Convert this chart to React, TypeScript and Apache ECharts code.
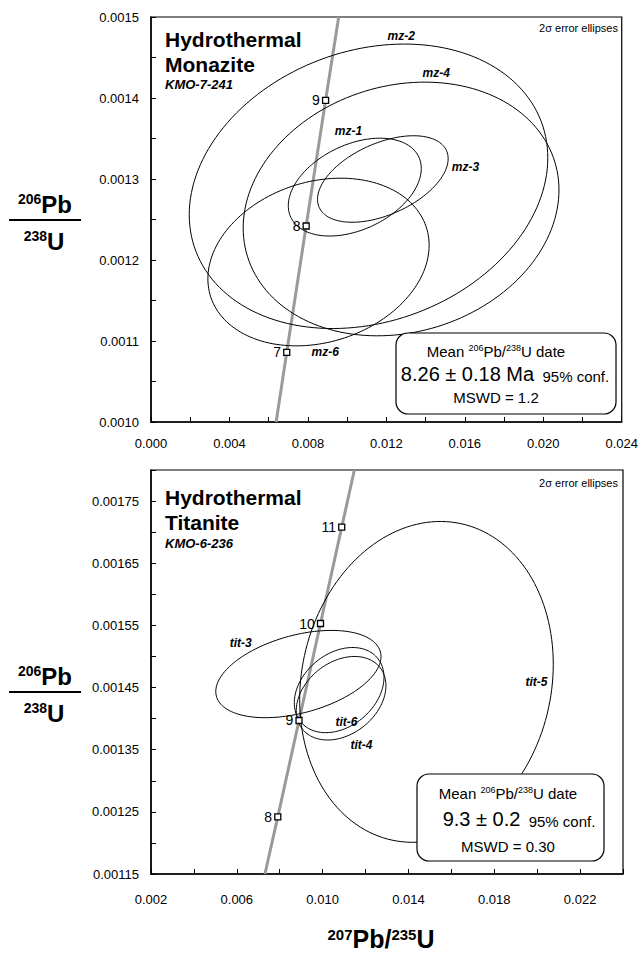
import React, { useEffect, useRef } from 'react';
import * as echarts from 'echarts';

const FONT = "'Liberation Sans', Arial, Helvetica, sans-serif";

// ---------- Panel A: hydrothermal monazite (KMO-7-241) ----------
const mzNames = ['mz-1', 'mz-2', 'mz-3', 'mz-4', 'mz-6'];
const mzX = [0.01039, 0.01109, 0.01182, 0.01275, 0.00854]; // 207Pb/235U centre
const mzY = [0.00129, 0.001291, 0.0013, 0.001263, 0.0011975]; // 206Pb/238U centre
const mzSx = [0.00339, 0.00914, 0.00333, 0.00805, 0.00564]; // 2σ x
const mzSy = [0.0000604, 0.0001756, 0.0000534, 0.0001566, 0.0001035]; // 2σ y
const mzRho = [0.38, 0.2, 0.47, 0.15, 0.2];
const mzLabelX = [0.01007, 0.01276, 0.01603, 0.01454, 0.00888];
const mzLabelY = [0.001359, 0.001477, 0.001315, 0.001431, 0.001086];

const concAAges = [7, 8, 9];
const concAX = [0.00692, 0.00791, 0.0089];
const concAY = [0.001086, 0.001242, 0.001397];
const concALineX = [0.00638, 0.00692, 0.00791, 0.0089, 0.00957];
const concALineY = [0.001, 0.001086, 0.001242, 0.001397, 0.0015];

const xTicksA = [0, 0.002, 0.004, 0.006, 0.008, 0.01, 0.012, 0.014, 0.016, 0.018, 0.02, 0.022, 0.024];
const xLabelsA = [0, 0.004, 0.008, 0.012, 0.016, 0.02, 0.024];
const yTicksA = [0.001, 0.00105, 0.0011, 0.00115, 0.0012, 0.00125, 0.0013, 0.00135, 0.0014, 0.00145, 0.0015];
const yLabelsA = [0.001, 0.0011, 0.0012, 0.0013, 0.0014, 0.0015];

// ---------- Panel B: hydrothermal titanite (KMO-6-236) ----------
const titNames = ['tit-3', 'tit-4', 'tit-5', 'tit-6'];
const titX = [0.00887, 0.01086, 0.01484, 0.01077];
const titY = [0.0014717, 0.0014328, 0.0014591, 0.0014459];
const titSx = [0.00385, 0.00209, 0.00591, 0.00209];
const titSy = [0.0000702, 0.0000672, 0.0002581, 0.0000685];
const titRho = [0.4, 0.3, 0.11, 0.3];
const titLabelX = [0.00618, 0.01181, 0.01997, 0.01111];
const titLabelY = [0.0015215, 0.0013575, 0.0014597, 0.0013946];

const concBAges = [8, 9, 10, 11];
const concBX = [0.00791, 0.0089, 0.0099, 0.01089];
const concBY = [0.001242, 0.001397, 0.001553, 0.001708];
const concBLineX = [0.00731, 0.00791, 0.0089, 0.0099, 0.01089, 0.01148];
const concBLineY = [0.00115, 0.001242, 0.001397, 0.001553, 0.001708, 0.0018];

const xTicksB = [0.002, 0.004, 0.006, 0.008, 0.01, 0.012, 0.014, 0.016, 0.018, 0.02, 0.022, 0.024];
const xLabelsB = [0.002, 0.006, 0.01, 0.014, 0.018, 0.022];
const yTicksB = [0.00115, 0.0012, 0.00125, 0.0013, 0.00135, 0.0014, 0.00145, 0.0015, 0.00155, 0.0016, 0.00165, 0.0017, 0.00175, 0.0018];
const yLabelsB = [0.00115, 0.00125, 0.00135, 0.00145, 0.00155, 0.00165, 0.00175];

const ellipseRender = (params: any, api: any) => {
  const cx = api.value(0);
  const cy = api.value(1);
  const sx = api.value(2);
  const sy = api.value(3);
  const r = api.value(4);
  const k = Math.sqrt(1 - r * r);
  const pts: number[][] = [];
  const n = 160;
  for (let i = 0; i <= n; i++) {
    const t = (i / n) * Math.PI * 2;
    pts.push(api.coord([cx + sx * Math.cos(t), cy + sy * (r * Math.cos(t) + k * Math.sin(t))]));
  }
  return {
    type: 'polygon',
    shape: { points: pts },
    style: { fill: 'none', stroke: '#000', lineWidth: 1 },
  };
};

function axisPair(gi: number, xmin: number, xmax: number, xt: number[], xl: number[], xdig: number, xmargin: number,
  ymin: number, ymax: number, yt: number[], yl: number[], ydig: number) {
  const common = {
    axisLine: { show: true, onZero: false, lineStyle: { color: '#000', width: 1.5 } },
    splitLine: { show: false },
  };
  const x = {
    type: 'value', gridIndex: gi, min: xmin, max: xmax, ...common,
    axisTick: { show: true, inside: true, length: 5, customValues: xt, lineStyle: { color: '#000', width: 1 } },
    axisLabel: {
      customValues: xl, margin: xmargin, color: '#000', fontSize: 13, fontFamily: FONT,
      formatter: (v: number) => v.toFixed(xdig),
    },
  };
  const y = {
    type: 'value', gridIndex: gi, min: ymin, max: ymax, ...common,
    axisTick: { show: true, inside: true, length: 5, customValues: yt, lineStyle: { color: '#000', width: 1 } },
    axisLabel: {
      customValues: yl, margin: 12, color: '#000', fontSize: 13, fontFamily: FONT,
      formatter: (v: number) => v.toFixed(ydig),
    },
  };
  return { x, y };
}

function panelSeries(gi: number, names: string[], xs: number[], ys: number[], sxs: number[], sys: number[], rhos: number[],
  lx: number[], ly: number[], ages: number[], cx: number[], cy: number[], clx: number[], cly: number[]) {
  return [
    {
      type: 'line', xAxisIndex: gi, yAxisIndex: gi, showSymbol: false, symbol: 'none',
      data: clx.map((v, i) => [v, cly[i]]),
      lineStyle: { color: '#9a9a9a', width: 3 }, z: 1, silent: true,
    },
    {
      type: 'custom', xAxisIndex: gi, yAxisIndex: gi, renderItem: ellipseRender,
      encode: { x: 0, y: 1 },
      data: names.map((n, i) => [xs[i], ys[i], sxs[i], sys[i], rhos[i]]),
      z: 3, silent: true,
    },
    {
      type: 'scatter', xAxisIndex: gi, yAxisIndex: gi, symbol: 'rect', symbolSize: 6,
      itemStyle: { color: '#fff', borderColor: '#000', borderWidth: 1.3, opacity: 1 },
      data: ages.map((a, i) => ({ value: [cx[i], cy[i]], name: String(a) })),
      label: { show: true, position: 'left', distance: 2, formatter: '{b}', color: '#000', opacity: 1, fontSize: 14, fontFamily: FONT },
      z: 4, silent: true,
    },
    {
      type: 'scatter', xAxisIndex: gi, yAxisIndex: gi, symbol: 'circle', symbolSize: 1,
      itemStyle: { color: '#fff', opacity: 1 },
      data: names.map((n, i) => ({ value: [lx[i], ly[i]], name: n })),
      label: {
        show: true, position: 'inside', formatter: '{b}', color: '#000', opacity: 1, fontSize: 12,
        fontWeight: 'bold', fontStyle: 'italic', fontFamily: FONT,
      },
      z: 5, silent: true,
    },
  ];
}

function txt(x: number, y: number, text: string, size: number, opts: any = {}) {
  return {
    type: 'text', x, y, z: 100,
    style: {
      text, fill: '#000', font: `${opts.style || ''} ${opts.weight || 'normal'} ${size}px ${FONT}`,
      textAlign: opts.align || 'left', textVerticalAlign: 'middle',
    },
  };
}

function richTxt(x: number, y: number, text: string, rich: any) {
  return {
    type: 'text', x, y, z: 100,
    style: { text, rich, align: 'center', verticalAlign: 'middle', fill: '#000', fontFamily: FONT },
  };
}

function fracTitle(cx: number, lineY: number) {
  const rich = {
    s: { fontSize: 14, fontWeight: 'bold', fontFamily: FONT, verticalAlign: 'top', fill: '#000' },
    m: { fontSize: 24, fontWeight: 'bold', fontFamily: FONT, verticalAlign: 'bottom', fill: '#000' },
  };
  return [
    richTxt(cx, lineY - 16, '{s|206}{m|Pb}', rich),
    { type: 'line', z: 100, shape: { x1: 9, y1: lineY, x2: 81, y2: lineY }, style: { stroke: '#000', lineWidth: 2 } },
    richTxt(cx - 1, lineY + 21, '{s|238}{m|U}', rich),
  ];
}

function resultBox(x: number, y: number, w: number, h: number, cx: number, l1: number, big: string, bigCx: number, l2: number, mswd: string, l3: number) {
  const mean = {
    a: { fontSize: 15, fontFamily: FONT, fill: '#000' },
    s: { fontSize: 9, fontFamily: FONT, verticalAlign: 'top', fill: '#000' },
  };
  const val = {
    b: { fontSize: 20, fontFamily: FONT, verticalAlign: 'bottom', fill: '#000' },
    c: { fontSize: 15, fontFamily: FONT, verticalAlign: 'bottom', fill: '#000' },
  };
  return [
    { type: 'rect', z: 90, shape: { x, y, width: w, height: h, r: 12 }, style: { fill: '#fff', stroke: '#000', lineWidth: 1.2 } },
    richTxt(cx, l1, '{a|Mean }{s|206}{a|Pb/}{s|238}{a|U date}', mean),
    richTxt(bigCx, l2, `{b|${big}}{c|  95% conf.}`, val),
    txt(cx, l3, mswd, 15, { align: 'center' }),
  ];
}

export default function App() {
  const ref = useRef<HTMLDivElement>(null);
  useEffect(() => {
    if (!ref.current) return;
    const chart = echarts.init(ref.current, undefined, { renderer: 'svg' });
    const a = axisPair(0, 0, 0.024, xTicksA, xLabelsA, 3, 15, 0.001, 0.0015, yTicksA, yLabelsA, 4);
    const b = axisPair(1, 0.002, 0.024, xTicksB, xLabelsB, 3, 19, 0.00115, 0.0018, yTicksB, yLabelsB, 5);
    const xRich = {
      s: { fontSize: 15, fontWeight: 'bold', fontFamily: FONT, verticalAlign: 'top', fill: '#000' },
      m: { fontSize: 25, fontWeight: 'bold', fontFamily: FONT, verticalAlign: 'bottom', fill: '#000' },
    };
    const option: any = {
      animation: false,
      backgroundColor: '#fff',
      grid: [
        { left: 151, top: 17, width: 472, height: 405, show: true, borderColor: '#000', borderWidth: 1.2, backgroundColor: 'transparent' },
        { left: 151, top: 470, width: 472, height: 404, show: true, borderColor: '#000', borderWidth: 1.2, backgroundColor: 'transparent' },
      ],
      xAxis: [a.x, b.x],
      yAxis: [a.y, b.y],
      series: [
        ...panelSeries(0, mzNames, mzX, mzY, mzSx, mzSy, mzRho, mzLabelX, mzLabelY, concAAges, concAX, concAY, concALineX, concALineY),
        ...panelSeries(1, titNames, titX, titY, titSx, titSy, titRho, titLabelX, titLabelY, concBAges, concBX, concBY, concBLineX, concBLineY),
      ],
      graphic: [
        txt(165, 39, 'Hydrothermal', 21, { weight: 'bold' }),
        txt(165, 64, 'Monazite', 21, { weight: 'bold' }),
        txt(165, 84, 'KMO-7-241', 13, { weight: 'bold', style: 'italic' }),
        txt(618, 28, '2σ error ellipses', 11, { align: 'right' }),
        txt(165, 497, 'Hydrothermal', 21, { weight: 'bold' }),
        txt(165, 522, 'Titanite', 21, { weight: 'bold' }),
        txt(165, 543, 'KMO-6-236', 13, { weight: 'bold', style: 'italic' }),
        txt(618, 483, '2σ error ellipses', 11, { align: 'right' }),
        ...fracTitle(45, 220),
        ...fracTitle(45, 692),
        richTxt(381, 939, '{s|207}{m|Pb/}{s|235}{m|U}', xRich),
        ...resultBox(396, 333, 220, 81, 496, 351, '8.26 ± 0.18 Ma', 505, 374, 'MSWD = 1.2', 397),
        ...resultBox(417, 774, 187, 87, 508, 793, '9.3 ± 0.2', 519, 819, 'MSWD = 0.30', 846),
      ],
    };
    chart.setOption(option);
    return () => chart.dispose();
  }, []);
  return (
    <div
      ref={ref}
      style={{ position: 'fixed', left: 0, top: 0, width: 641, height: 954, background: '#fff' }}
    />
  );
}
